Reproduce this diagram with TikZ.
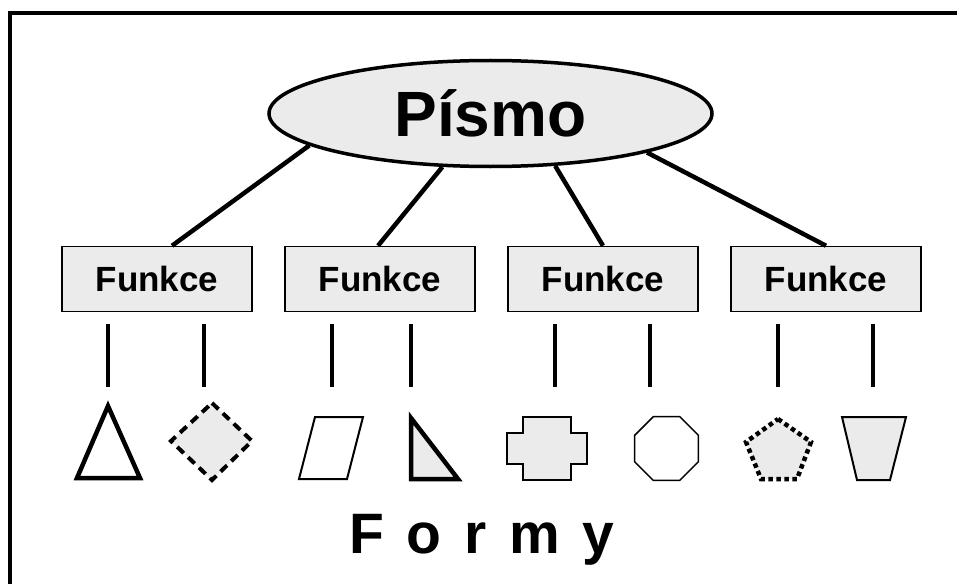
\documentclass[tikz,border=0pt]{standalone}
\usepackage{fontspec}
\setmainfont{Liberation Sans}
\usetikzlibrary{shapes.geometric,calc}
\begin{document}
\begin{tikzpicture}[x=1pt,y=-1pt,
  conn/.style={line width=4.5pt},
  vline/.style={line width=4pt},
  fbox/.style={draw,line width=1.5pt,fill=black!8,minimum width=190pt,minimum height=65pt,inner sep=0pt,font=\fontsize{35}{40}\selectfont\bfseries},
  topell/.style={draw,ellipse,line width=3.5pt,fill=black!8,minimum width=443pt,minimum height=106pt,inner sep=0pt,font=\fontsize{64}{70}\selectfont\bfseries},
  gfill/.style={fill=black!8}]
\clip (0,0) rectangle (957,583);
\fill[white] (0,0) rectangle (957,583);
% frame
\draw[line width=4pt] (10,13) rectangle (975,600);
% top ellipse
\node[topell] (P) at (490.5,113.5) {Písmo};
% boxes
\node[fbox] (F1) at (157,279) {Funkce};
\node[fbox] (F2) at (380,279) {Funkce};
\node[fbox] (F3) at (603,279) {Funkce};
\node[fbox] (F4) at (826,279) {Funkce};
% connectors
\draw[conn] (P.190.8) -- (F1.north -| 172,0);
\draw[conn] (P.228.6) -- (F2.north -| 378,0);
\draw[conn] (P.321.7) -- (F3.north);
\draw[conn] (P.346.6) -- (F4.north);
% vertical stubs
\foreach \x in {108,204,332,411,555,650,778,873}
  \draw[vline] (\x,324) -- (\x,387);
% shapes
\draw[line width=4.5pt] (108,406) -- (140,478) -- (77,478) -- cycle;
\draw[gfill,line width=4pt,dash pattern=on 9pt off 6pt] (212,403) -- (252,441) -- (212,480) -- (171,441) -- cycle;
\draw[line width=2pt] (299,479) -- (315,417) -- (363,417) -- (347,479) -- cycle;
\draw[gfill,line width=4.5pt] (411,418) -- (458,479) -- (411,479) -- cycle;
\draw[gfill,line width=1.5pt] (523,417) -- (571,417) -- (571,433) -- (587,433) -- (587,464) -- (571,464) -- (571,480) -- (523,480) -- (523,464) -- (507,464) -- (507,433) -- (523,433) -- cycle;
\draw[line width=1.5pt,shift={(666.5,448.5)}] (22.5:34.5) \foreach \a in {67.5,112.5,...,337.5} {-- (\a:34.5)} -- cycle;
\draw[gfill,line width=4.5pt,dash pattern=on 4.5pt off 3.5pt] (778,419) -- (811,442) -- (797,479) -- (761,479) -- (746,442) -- cycle;
\draw[gfill,line width=2pt] (842,417) -- (906,417) -- (890,480) -- (857,480) -- cycle;
% bottom title
\node[anchor=base,inner sep=0pt,font=\fontsize{57}{60}\selectfont\bfseries] (T) at (482,553) {F\hspace{0.4em}o\hspace{0.4em}r\hspace{0.4em}m\hspace{0.4em}y};
\end{tikzpicture}
\end{document}
